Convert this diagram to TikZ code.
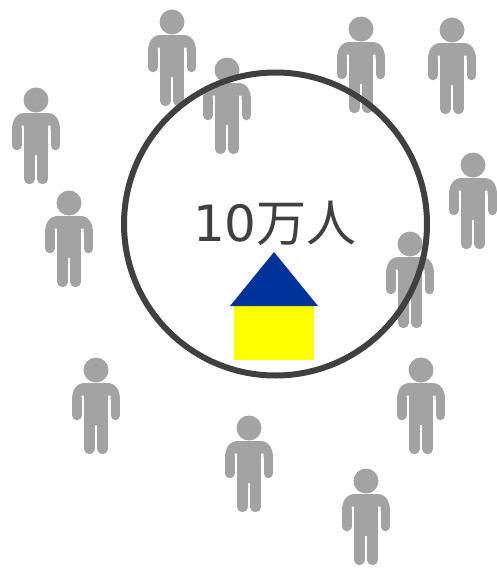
\documentclass[tikz,border=0pt]{standalone}
\usepackage{fontspec}
\setmainfont{DejaVu Sans}
\newfontfamily\cjkjp{Noto Sans CJK JP}
\definecolor{persongray}{RGB}{163,163,163}
\definecolor{ringgray}{RGB}{64,64,64}
\definecolor{roofblue}{RGB}{0,51,153}
\definecolor{wallyellow}{RGB}{255,255,0}
\tikzset{
  x=1pt,y=-1pt,
  persona/.pic={
    \fill[persongray] (0,0) circle (12.5);
    \fill[persongray]
      (-24,30) .. controls (-24,19) and (-19,13) .. (-11,13) -- (11,13)
      .. controls (19,13) and (24,19) .. (24,30) -- (14.5,30) -- (14.5,25.5) -- (11.8,25.5)
      -- (11.8,55) -- (-11.8,55) -- (-11.8,25.5) -- (-14.5,25.5) -- (-14.5,30) -- cycle;
    \draw[persongray,line width=9.5pt,line cap=round] (-19.25,29) -- (-19.25,45.5);
    \draw[persongray,line width=9.5pt,line cap=round] (19.25,29) -- (19.25,45.5);
    \draw[persongray,line width=10.4pt,line cap=round] (-6.6,50) -- (-6.6,79);
    \draw[persongray,line width=10.4pt,line cap=round] (6.6,50) -- (6.6,79);
  },
  ring/.style={draw=ringgray,line width=6pt},
  bigtext/.style={text=ringgray,font=\fontsize{50}{50}\selectfont,inner sep=0pt,anchor=center},
}
\begin{document}
\begin{tikzpicture}
\useasboundingbox (0,0) rectangle (497,568);
\foreach \px/\py in {172/22,227/70,361/29,452/30,473/165,410/244,36/100,69/203,96/370,421/370,249/428,366/481}
  \pic at (\px,\py) {persona};
\draw[ring] (275.5,224) circle (151.5);
\node[bigtext] (label) at (275,223) {10{\cjkjp 万人}};
\fill[wallyellow] (234,306) rectangle (314,360);
\fill[roofblue] (274,252) -- (318,306) -- (230,306) -- cycle;
\end{tikzpicture}
\end{document}
